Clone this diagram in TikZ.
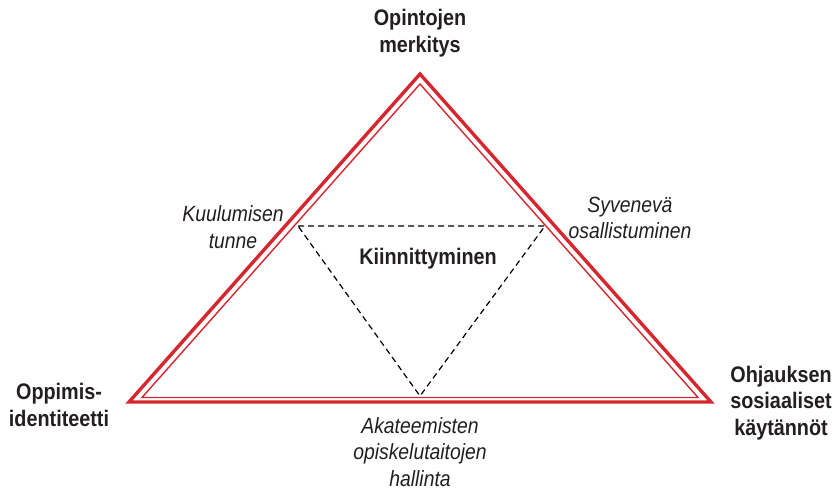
\documentclass[tikz,border=0pt]{standalone}
\usepackage{fontspec}
\setmainfont{Liberation Sans}[FakeStretch=0.88]
\definecolor{tred}{RGB}{214,38,46}
\definecolor{ttext}{RGB}{35,31,32}
\begin{document}
\begin{tikzpicture}[x=1pt,y=-1pt,
  boldlbl/.style={font=\fontsize{22.5}{26.5}\selectfont\bfseries, text=ttext, align=center, inner sep=0pt},
  itlbl/.style={font=\fontsize{22}{26.5}\selectfont\itshape, text=ttext, align=center, inner sep=0pt},
  outerline/.style={draw=tred, line width=3.4pt, line join=miter},
  innerline/.style={draw=tred, line width=1.4pt, line join=miter},
  dashline/.style={draw=black, line width=1.2pt, dash pattern=on 6pt off 4pt}]
\useasboundingbox (0,0) rectangle (840,495);
% outer triangle
\coordinate (oA) at (420,74);
\coordinate (oL) at (129,402);
\coordinate (oR) at (711,402);
% inner triangle
\coordinate (iA) at (420,84);
\coordinate (iL) at (142,397.5);
\coordinate (iR) at (698,397.5);
% dashed triangle
\coordinate (dL) at (298,226);
\coordinate (dR) at (545,226);
\coordinate (dB) at (420,396);
\draw[outerline] (oA) -- (oL) -- (oR) -- cycle;
\draw[innerline] (iA) -- (iL) -- (iR) -- cycle;
\draw[dashline] (dL) -- (dR) -- (dB) -- cycle;
% labels
\node[boldlbl] (top) at (420,33) {Opintojen\\merkitys};
\node[boldlbl] (left) at (59,405) {Oppimis-\\identiteetti};
\node[boldlbl] (right) at (781,403) {Ohjauksen\\sosiaaliset\\käytännöt};
\node[boldlbl] (center) at (428,259) {Kiinnittyminen};
\node[itlbl] (kuul) at (233,227) {Kuulumisen\\tunne};
\node[itlbl] (syv) at (630,218) {Syvenevä\\osallistuminen};
\node[itlbl] (akat) at (420,452) {Akateemisten\\opiskelutaitojen\\hallinta};
\end{tikzpicture}
\end{document}
